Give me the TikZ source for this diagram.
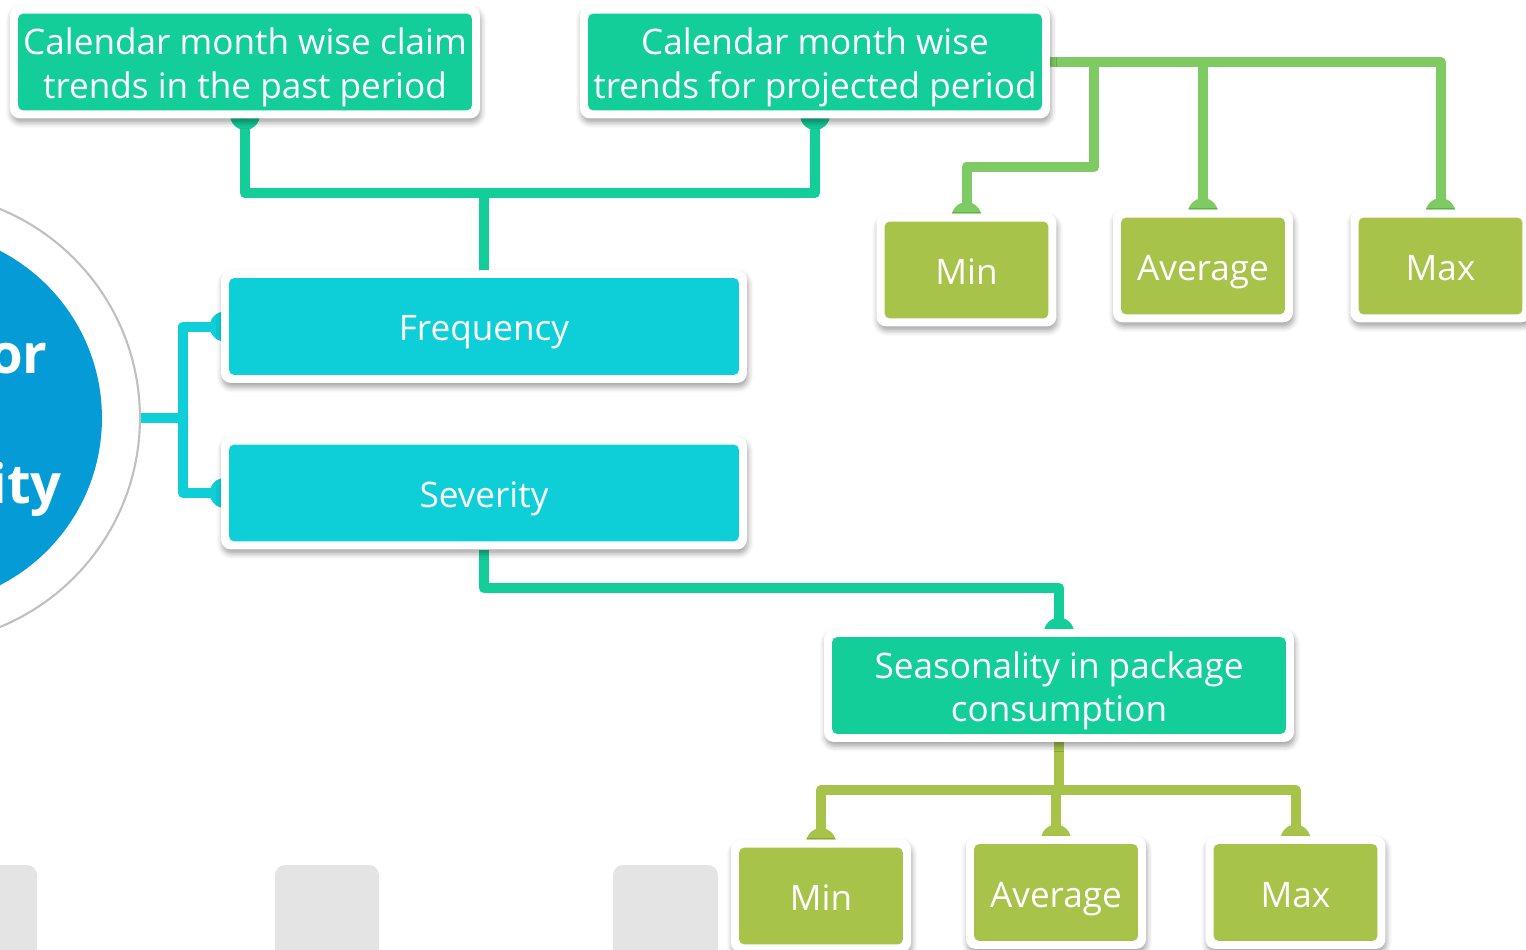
\documentclass[tikz,border=0pt]{standalone}
\usepackage{fontspec}
\setmainfont{Open Sans}
\usetikzlibrary{shadows.blur}

\definecolor{tealgreen}{RGB}{20,206,154}
\definecolor{aqua}{RGB}{14,207,216}
\definecolor{mossgreen}{RGB}{168,195,74}
\definecolor{leaf}{RGB}{125,203,98}
\definecolor{hubblue}{RGB}{4,155,215}
\definecolor{ringgrey}{RGB}{192,192,192}
\definecolor{tabgrey}{RGB}{228,228,228}

\pgfdeclarelayer{links}
\pgfsetlayers{links,main}

% round joint where a connector meets a card
\newcommand{\linkknob}[3]{\fill[#1] ([shift={#3}]#2) circle[radius=0.3cm];}
% fixed first-line height and last-line depth, so all cards set text alike
\newcommand{\cardtop}{\rule{0pt}{21.5pt}}
\newcommand{\cardbottom}{\rule[-5pt]{0pt}{5pt}}

\tikzset{
  card/.style={rectangle, fill=white, rounded corners=0.2cm, inner sep=0pt,
    text=white, align=center, font=\fontsize{20}{25}\selectfont,
    blur shadow={shadow xshift=0.6pt, shadow yshift=-2.5pt,
      shadow blur radius=3pt, shadow opacity=35},
    path picture={\fill[#1, rounded corners=0.1cm]
      ([shift={(4.6pt,4.6pt)}]path picture bounding box.south west) rectangle
      ([shift={(-4.6pt,-4.6pt)}]path picture bounding box.north east);}},
  widecard/.style={minimum width=9.4cm, minimum height=2.26cm},
  longcard/.style={minimum width=10.52cm, minimum height=2.26cm},
  smallcard/.style={minimum width=3.6cm, minimum height=2.26cm},
  link/.style={draw=#1, line width=0.2cm, line join=round},
  hubtext/.style={text=white, inner sep=0pt,
    font=\fontsize{31}{37}\selectfont\bfseries},
}

\begin{document}
\begin{tikzpicture}[x=0.02cm, y=-0.02cm]
\useasboundingbox (0,0) rectangle (1526,950);
\clip (0,0) rectangle (1526,950);

% grey tabs along the lower edge
\fill[tabgrey, rounded corners=0.2cm] (-30,865) rectangle (37,990);
\fill[tabgrey, rounded corners=0.2cm] (275,865) rectangle (379,990);
\fill[tabgrey, rounded corners=0.2cm] (613,865) rectangle (718,990);

% hub circle on the left
\node[circle, inner sep=0pt, minimum size=9.04cm, fill=white, draw=ringgrey,
  line width=1.2pt] (ring) at (-86,418) {};
\node[circle, inner sep=0pt, minimum size=7.52cm, fill=hubblue] (hub) at (ring.center) {};
\node[hubtext, anchor=base east] (hubA) at (48,373) {or};
\node[hubtext, anchor=base east] (hubB) at (62,503) {ity};

% cards
\node[card=tealgreen, widecard] (past) at (245,62)
  {\cardtop Calendar month wise claim\\trends in the past period\cardbottom};
\node[card=tealgreen, widecard] (proj) at (815,62)
  {\cardtop Calendar month wise\\trends for projected period\cardbottom};
\node[card=aqua, longcard] (freq) at (484,326.5) {\cardtop Frequency\cardbottom};
\node[card=aqua, longcard] (sev) at (484,493) {\cardtop Severity\cardbottom};
\node[card=tealgreen, widecard] (seas) at (1059,685.5)
  {\cardtop Seasonality in package\\consumption\cardbottom};

\node[card=mossgreen, smallcard] (tmin) at (966.5,270) {\cardtop Min\cardbottom};
\node[card=mossgreen, smallcard] (tavg) at (1203,266) {\cardtop Average\cardbottom};
\node[card=mossgreen, smallcard] (tmax) at (1440.5,266) {\cardtop Max\cardbottom};

\node[card=mossgreen, smallcard] (bmin) at (821,896) {\cardtop Min\cardbottom};
\node[card=mossgreen, smallcard] (bavg) at (1056,892.5) {\cardtop Average\cardbottom};
\node[card=mossgreen, smallcard] (bmax) at (1295.5,892.5) {\cardtop Max\cardbottom};

% connectors, kept behind the cards
\begin{pgfonlayer}{links}
  % past / projected trends to Frequency
  \coordinate (tj) at (484,193);
  \draw[link=tealgreen] (past.south) |- (tj) -| (proj.south);
  \draw[link=tealgreen] (tj) -- (freq.north);
  \linkknob{tealgreen}{past.south}{(0,-4)}
  \linkknob{tealgreen}{proj.south}{(0,-4)}

  % hub to Frequency and Severity
  \coordinate (cj) at (183,418);
  \draw[link=aqua] (ring.east) -- (cj);
  \draw[link=aqua] (freq.west) -| (cj) |- (sev.west);
  \linkknob{aqua}{freq.west}{(4,0)}
  \linkknob{aqua}{sev.west}{(4,0)}

  % Severity to seasonality
  \coordinate (sj) at (484,588);
  \draw[link=tealgreen] (sev.south) -- (sj) -| (seas.north);
  \linkknob{tealgreen}{seas.north}{(0,4)}

  % seasonality to its min / average / max
  \coordinate (bj) at (1059,790);
  \draw[link=mossgreen] (seas.south) -- (bj);
  \draw[link=mossgreen] (bmin.north) |- (bj) -| (bmax.north);
  \draw[link=mossgreen] (bj -| bavg.north) -- (bavg.north);
  \linkknob{mossgreen}{bmin.north}{(0,4)}
  \linkknob{mossgreen}{bavg.north}{(0,4)}
  \linkknob{mossgreen}{bmax.north}{(0,4)}

  % projected trends to its min / average / max
  \coordinate (ga) at (1094,62);
  \coordinate (gb) at (1094,167);
  \draw[link=leaf] (proj.east) -| (tmax.north);
  \draw[link=leaf] (ga) -- (gb) -| (tmin.north);
  \draw[link=leaf] (tavg.north |- proj.east) -- (tavg.north);
  \linkknob{leaf}{tmin.north}{(0,4)}
  \linkknob{leaf}{tavg.north}{(0,4)}
  \linkknob{leaf}{tmax.north}{(0,4)}
\end{pgfonlayer}
\end{tikzpicture}
\end{document}
